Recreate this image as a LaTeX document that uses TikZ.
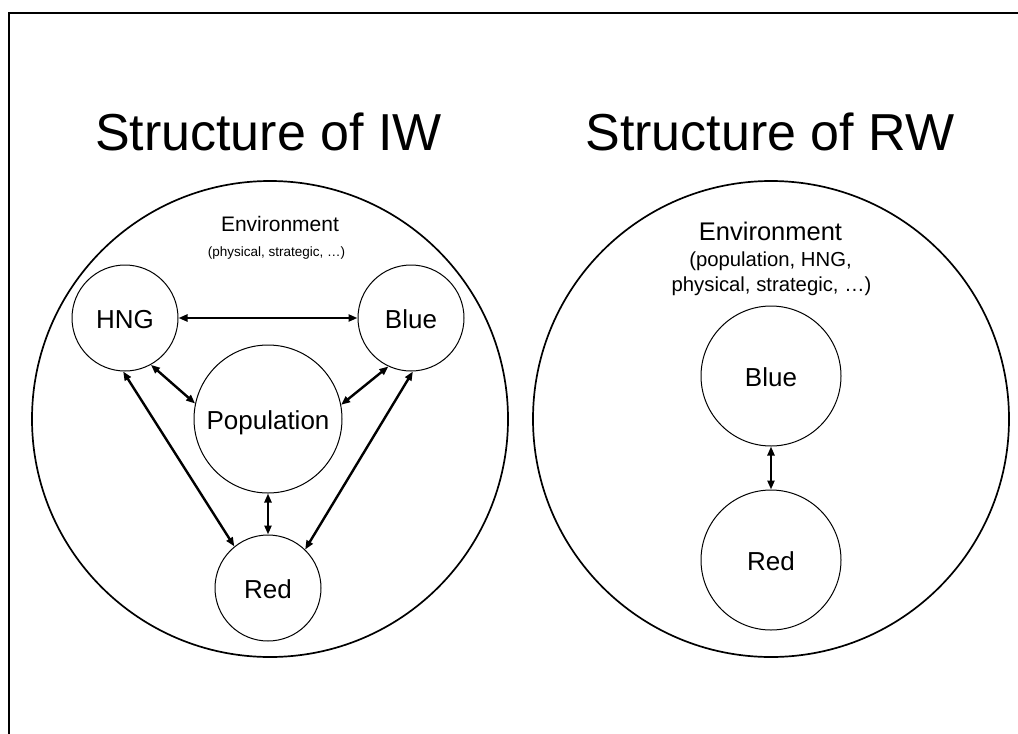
\documentclass[tikz,border=0pt]{standalone}
\usepackage{fontspec}
\setmainfont{Liberation Sans}
\usetikzlibrary{arrows.meta}

\begin{document}
\begin{tikzpicture}[x=1pt, y=-1pt,
   actor/.style={draw, circle, line width=1pt, minimum size=106pt, inner sep=0pt,
    font=\fontsize{26}{31}\selectfont, text height=21.5pt, text depth=0pt},
   world/.style={draw, circle, line width=1.7pt, minimum size=476pt, inner sep=0pt},
   heading/.style={anchor=base, font=\fontsize{52}{62}\selectfont},
   envtext/.style={anchor=base, inner sep=0pt},
   link/.style={{Triangle[length=9pt,width=7pt]}-{Triangle[length=9pt,width=7pt]}, line width=2.4pt}
  ]
   \useasboundingbox (0,0) rectangle (1018,734);
   \draw[line width=2pt] (1018,13) -- (9,13) -- (9,734);

   \node [heading] (titleIW) at (268.5,150) {Structure of IW};
   \node [heading] (titleRW) at (770,150) {Structure of RW};

   \node [world] (worldIW) at (270,419) {};
   \node [world] (worldRW) at (771,419) {};

   \node [envtext, font=\fontsize{21}{25}\selectfont] (envIW) at (280,231) {Environment};
   \node [envtext, font=\fontsize{13.5}{16}\selectfont] (envIWsub) at (276.5,256) {(physical, strategic, …)};
   \node [envtext, font=\fontsize{25.5}{30}\selectfont] (envRW) at (770.5,240) {Environment};
   \node [envtext, font=\fontsize{20.3}{25}\selectfont] (envRWsubA) at (770.5,266) {(population, HNG,};
   \node [envtext, font=\fontsize{20.3}{25}\selectfont] (envRWsubB) at (771.5,291) {physical, strategic, …)};

   \node [actor] (hng) at (125,318) {HNG};
   \node [actor] (blue) at (411,318) {Blue};
   \node [actor, minimum size=148pt] (pop) at (268,419) {Population};
   \node [actor] (red) at (268,588) {Red};
   \node [actor, minimum size=140pt] (blueRW) at (771,376) {Blue};
   \node [actor, minimum size=140pt] (redRW) at (771,560) {Red};

   \draw[link] (hng.east) -- (blue.west);
   \draw[link] (hng.299) -- (pop.168);
   \draw[link] (hng.268) -- (red.129);
   \draw[link] (blue.245) -- (pop.11);
   \draw[link] (blue.272) -- (red.46);
   \draw[link] (pop.south) -- (red.north);
   \draw[link] (blueRW.south) -- (redRW.north);
\end{tikzpicture}
\end{document}
